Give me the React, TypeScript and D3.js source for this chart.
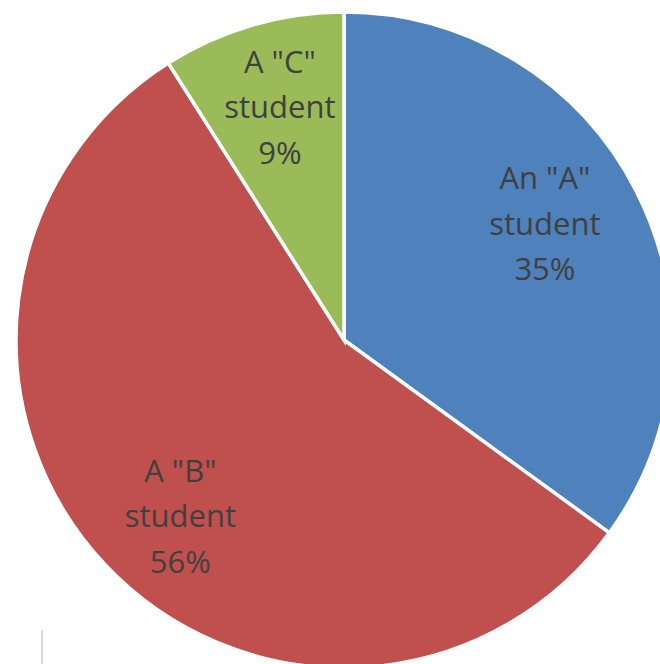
import React from "react";
import * as d3 from "d3";

// Grade distribution
const categories = ['An "A"', 'A "B"', 'A "C"'];
const labelSecondLine = ["student", "student", "student"];
const values = [35, 56, 9];
const colors = ["#4F81BD", "#C0504D", "#9BBB59"];

const W = 660;
const H = 664;
const cx = 344;
const cy = 340;
const R = 328;

// Fine positioning of each label relative to its slice centroid (dx, dy in px)
const labelNudge: Record<string, [number, number]> = {
  'An "A"': [-4, -1],
  'A "B"': [4, 30],
  'A "C"': [0, -1],
};

export default function App() {
  const pie = d3
    .pie<number>()
    .sort(null)
    .value((d) => d);
  const arcs = pie(values);
  const arc = d3.arc<d3.PieArcDatum<number>>().innerRadius(0).outerRadius(R);
  const labelArc = d3
    .arc<d3.PieArcDatum<number>>()
    .innerRadius(230)
    .outerRadius(230);
  const total = d3.sum(values);
  const lineH = 45.5;

  return (
    <svg
      width={W}
      height={H}
      style={{ position: "absolute", left: 0, top: 0, background: "#fff" }}
    >
      <line x1={42} x2={42} y1={630} y2={664} stroke="#d9d9d9" strokeWidth={2} />
      <g transform={`translate(${cx},${cy})`}>
        {arcs.map((a, i) => (
          <path
            key={i}
            d={arc(a) || ""}
            fill={colors[i]}
            stroke="#fff"
            strokeWidth={3.5}
            strokeLinejoin="miter"
          />
        ))}
        {arcs.map((a, i) => {
          const [x, y] = labelArc.centroid(a);
          const [nx, ny] = labelNudge[categories[i]];
          const pct = Math.round((values[i] / total) * 100) + "%";
          return (
            <text
              key={"l" + i}
              x={x + nx}
              y={y + ny}
              textAnchor="middle"
              fill="#404040"
              fontFamily="'Open Sans', sans-serif"
              fontSize={31}
            >
              <tspan x={x + nx} dy={-lineH}>
                {categories[i]}
              </tspan>
              <tspan x={x + nx} dy={lineH}>
                {labelSecondLine[i]}
              </tspan>
              <tspan x={x + nx} dy={lineH}>
                {pct}
              </tspan>
            </text>
          );
        })}
      </g>
    </svg>
  );
}
